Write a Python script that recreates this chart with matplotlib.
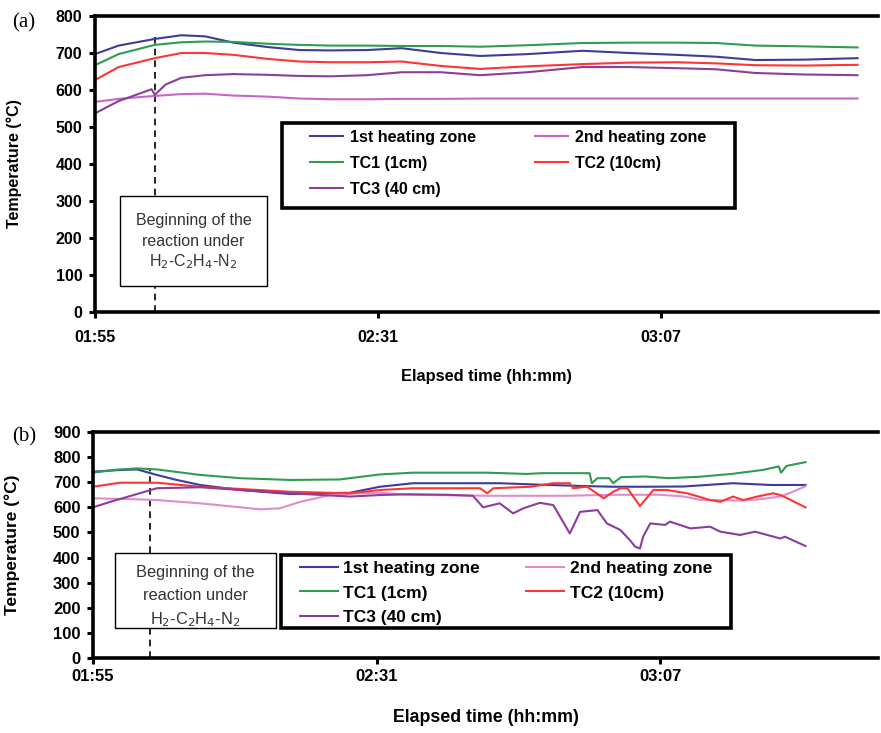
import matplotlib
matplotlib.use("Agg")
import matplotlib.pyplot as plt
from matplotlib.patches import Rectangle

plt.rcParams['font.family'] = ['Liberation Sans', 'DejaVu Sans']

# ---------------- data (minutes after 01:55, temperature in degC) ----------------
tick_pos = [0, 36, 72]
tick_labels = ["01:55", "02:31", "03:07"]
series_names = ["1st heating zone", "2nd heating zone", "TC1 (1cm)", "TC2 (10cm)", "TC3 (40 cm)"]
reaction_start_a = 7.6
reaction_start_b = 7.2

# panel (a)
t_a = [0, 3, 7.6, 11, 14, 17.6, 22, 26, 30, 34.6, 39, 44, 49, 55, 62, 68, 74, 79, 84, 90, 97]
a_zone1 = [697, 720, 738, 748, 745, 728, 716, 708, 707, 708, 713, 700, 692, 697, 706, 700, 695, 690, 681, 682, 686]
a_zone2 = [568, 576, 584, 589, 590, 585, 582, 577, 575, 575, 576, 576, 577, 577, 577, 577, 577, 577, 577, 577, 577]
a_tc1 = [667, 697, 722, 729, 731, 730, 725, 722, 720, 720, 719, 719, 717, 721, 727, 728, 728, 727, 720, 718, 715]
a_tc2 = [627, 662, 686, 700, 700, 695, 684, 677, 675, 675, 677, 665, 657, 664, 670, 674, 675, 672, 667, 666, 668]
t_a_tc3 = [0, 3, 7.2, 7.6, 9, 11, 14, 17.6, 22, 26, 30, 34.6, 39, 44, 49, 55, 62, 68, 74, 79, 84, 90, 97]
a_tc3 = [537, 570, 602, 587, 615, 633, 640, 643, 641, 638, 637, 640, 648, 648, 640, 648, 662, 662, 659, 656, 646, 642, 640]

# panel (b)
t_b_zone1 = [0, 3, 5.6, 8.1, 10.5, 13.6, 18.7, 25, 32.6, 36.4, 40.6, 45, 51.6, 57, 62, 66, 70, 75, 81.2, 86, 90.4]
b_zone1 = [742, 748, 751, 729, 710, 689, 669, 653, 658, 682, 696, 696, 696, 690, 685, 682, 682, 683, 696, 689, 689]
t_b_zone2 = [0, 5.6, 8.1, 13.6, 18.7, 21.2, 23.7, 26.3, 30.1, 33.9, 36.4, 40, 50, 60, 66, 72, 75, 77, 82, 84.6, 87.2, 88.8, 90.4]
b_zone2 = [636, 632, 629, 616, 600, 592, 596, 622, 649, 656, 658, 650, 646, 646, 650, 650, 643, 630, 627, 632, 643, 662, 684]
t_b_tc1 = [0, 3, 5.6, 8.1, 13.6, 18.7, 25, 31.3, 36.4, 40.6, 50, 55, 57, 63, 63.3, 64, 65.5, 66, 67, 70, 73, 77, 81, 85, 87, 87.3, 88, 90.4]
b_tc1 = [738, 750, 755, 751, 729, 716, 709, 711, 731, 738, 738, 733, 736, 736, 696, 716, 716, 696, 720, 723, 716, 722, 733, 749, 763, 738, 765, 780]
t_b_tc2 = [0, 3.4, 8.1, 13.6, 25, 32.6, 36.4, 40.6, 49.1, 50, 50.8, 55.5, 58.4, 60.5, 60.9, 62.7, 64.8, 66, 66.9, 67.8,
           69.4, 71.1, 72.8, 75.4, 78.3, 79.6, 81.2, 82.5, 84.3, 86.3, 87.2, 88.1, 90.4]
b_tc2 = [682, 698, 698, 682, 662, 656, 669, 676, 676, 656, 676, 682, 696, 696, 676, 682, 636, 662, 676, 676,
         605, 669, 669, 656, 629, 622, 643, 629, 643, 656, 649, 636, 600]
t_b_tc3 = [0, 2.2, 8.1, 13.6, 18.7, 25, 32.6, 36.4, 40, 45, 48.2, 49.5, 51.6, 53.3, 54.6, 56.7, 58.4, 60.5, 61.8, 64,
           65.2, 66.9, 68.1, 68.8, 69.4, 69.8, 70.7, 72.6, 73.2, 75.8, 78.3, 79.6, 82.1, 84, 87.2, 87.8, 90.4]
b_tc3 = [600, 622, 676, 680, 669, 656, 643, 649, 652, 650, 646, 600, 616, 576, 596, 618, 609, 496, 582, 589,
         536, 510, 470, 443, 436, 483, 536, 530, 543, 516, 523, 503, 490, 503, 476, 483, 446]

colors = {"zone1": "#3d3d98", "zone2a": "#c865c8", "zone2b": "#e08ad0",
          "tc1": "#2f9c50", "tc2": "#ff3535", "tc3": "#8c3c9c"}

# ---------------- figure ----------------
fig = plt.figure(figsize=(8.81, 7.33), dpi=100)
ax_a = fig.add_axes([95/881, 1-312/733, 783/881, 296/733])
ax_b = fig.add_axes([93/881, 1-658/733, 785/881, 226/733])


def style_axes(ax, ymax, xpad, labelpad, tfs, lfs, xlfs):
    ax.set_xlim(0, 99.6)
    ax.set_ylim(0, ymax)
    ax.set_yticks(range(0, ymax + 1, 100))
    ax.set_xticks(tick_pos)
    ax.set_xticklabels(tick_labels)
    for s in ["left", "bottom", "top"]:
        ax.spines[s].set_linewidth(2.6)
        ax.spines[s].set_color("black")
    ax.spines["right"].set_visible(False)
    ax.tick_params(axis="both", direction="out", length=4, width=2.2, labelsize=tfs)
    ax.tick_params(axis="x", pad=xpad)
    ax.tick_params(axis="y", pad=5)
    for lab in ax.get_xticklabels() + ax.get_yticklabels():
        lab.set_fontweight("bold")
    ax.set_ylabel("Temperature (°C)", fontsize=lfs, fontweight="bold")
    ax.yaxis.set_label_coords(-0.093, 0.5)
    ax.set_xlabel("Elapsed time (hh:mm)", fontsize=xlfs, fontweight="bold", labelpad=labelpad)


style_axes(ax_a, 800, 9, 17, 11.5, 11.5, 11.8)
style_axes(ax_b, 900, 4, 18, 12, 12.5, 12.8)

lw = 1.5
# panel a lines
la1, = ax_a.plot(t_a, a_zone1, color=colors["zone1"], lw=lw)
la2, = ax_a.plot(t_a, a_zone2, color=colors["zone2a"], lw=lw)
la3, = ax_a.plot(t_a, a_tc1, color=colors["tc1"], lw=lw)
la4, = ax_a.plot(t_a, a_tc2, color=colors["tc2"], lw=lw)
la5, = ax_a.plot(t_a_tc3, a_tc3, color=colors["tc3"], lw=lw)

# panel b lines
lb1, = ax_b.plot(t_b_zone1, b_zone1, color=colors["zone1"], lw=lw)
lb2, = ax_b.plot(t_b_zone2, b_zone2, color=colors["zone2b"], lw=lw)
lb3, = ax_b.plot(t_b_tc1, b_tc1, color=colors["tc1"], lw=lw)
lb4, = ax_b.plot(t_b_tc2, b_tc2, color=colors["tc2"], lw=lw)
lb5, = ax_b.plot(t_b_tc3, b_tc3, color=colors["tc3"], lw=lw)

# dashed reaction-start lines
ax_a.plot([reaction_start_a, reaction_start_a], [0, 750], color="black", lw=1.2, ls=(0, (4, 3)), zorder=1.5)
ax_b.plot([reaction_start_b, reaction_start_b], [0, 757], color="black", lw=1.2, ls=(0, (4, 3)), zorder=1.5)


def annotation_box(ax, x0, y0, x1, y1, ys, fs):
    ax.add_patch(Rectangle((x0, y0), x1 - x0, y1 - y0, transform=ax.transAxes,
                           facecolor="white", edgecolor="black", lw=1.0, zorder=4, clip_on=False))
    xc = (x0 + x1) / 2
    lines = ["Beginning of the", "reaction under", r"H$_2$-C$_2$H$_4$-N$_2$"]
    for txt, yy in zip(lines, ys):
        ax.text(xc, yy, txt, transform=ax.transAxes, ha="center", va="center",
                fontsize=fs, color="#333333", zorder=5)


annotation_box(ax_a, 25/783, 26/296, 172/783, 116/296,
               [(312-220)/296, (312-241)/296, (312-262)/296], 11.5)
annotation_box(ax_b, 22/785, 30/226, 183/785, 105/226,
               [(658-572)/226, (658-596)/226, (658-620)/226], 11.8)


def legend_box(ax, handles, x0, y0, x1, y1, anchor, fs, colsp, hl, htp, ls):
    ax.add_patch(Rectangle((x0, y0), x1 - x0, y1 - y0, transform=ax.transAxes,
                           facecolor="white", edgecolor="black", lw=2.6, zorder=4, clip_on=False))
    order = [0, 2, 4, 1, 3]
    leg = ax.legend([handles[i] for i in order], [series_names[i] for i in order],
                    ncol=2, loc="upper left", bbox_to_anchor=anchor, frameon=False,
                    prop={"weight": "bold", "size": fs}, handlelength=hl, handletextpad=htp,
                    columnspacing=colsp, labelspacing=ls, borderpad=0.0, borderaxespad=0.0)
    leg.set_zorder(6)
    return leg


legend_box(ax_a, [la1, la2, la3, la4, la5], 187/783, 104/296, 640/783, 189/296,
           ((310-95)/783, (312-130)/296), 11.5, 3.7, 2.05, 0.45, 0.69)
legend_box(ax_b, [lb1, lb2, lb3, lb4, lb5], 188/785, 30/226, 638/785, 103/226,
           ((300-93)/785, (658-561)/226), 12.5, 2.65, 2.2, 0.3, 0.53)

fig.text(12/881, 1-23/733, "(a)", family="Liberation Serif", fontsize=15, va="center")
fig.text(12/881, 1-437/733, "(b)", family="Liberation Serif", fontsize=15, va="center")

fig.savefig("out.png", dpi=100)
